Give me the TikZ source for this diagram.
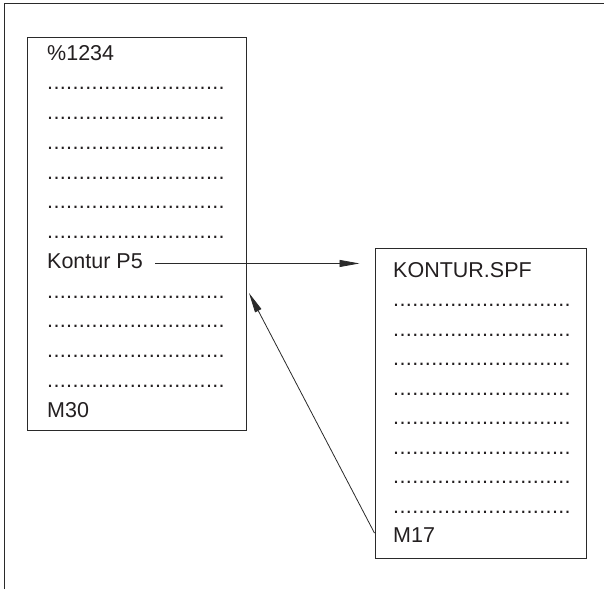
\documentclass[tikz,border=0pt]{standalone}
\usepackage{fontspec}
\setmainfont{Liberation Sans}
\usetikzlibrary{arrows.meta,positioning,calc}
\definecolor{pgink}{HTML}{231F20}
\definecolor{pgrule}{HTML}{2A2A2A}
\newcommand{\dotrow}{\foreach \d in {1,...,28}{\hbox to 6.35pt{.\hss}}}

\begin{document}
\begin{tikzpicture}[
  x=1pt,y=-1pt,
  font=\fontsize{21.5}{25}\selectfont,
  prog/.style={draw=pgrule,line width=1pt,inner sep=0pt},
  ln/.style={anchor=base west,inner sep=0pt,text=pgink},
  ar/.style={-{Triangle[length=20pt,width=7pt]},pgrule,line width=0.8pt}
]
\useasboundingbox (0,0) rectangle (604,589);
\draw[pgrule,line width=1.5pt] (4.5,589) -- (4.5,3.7) -- (604,3.7);

\node[prog,minimum width=219pt,minimum height=393pt] (main) at (136.5,233.5) {};
\node[prog,minimum width=211pt,minimum height=310pt] (sub) at (480.5,403) {};

% main program
\node[ln] (mhead) at (47,60) {\%1234};
\foreach \i in {1,...,6} \node[ln] (mdot\i) at (47,60+29.75*\i) {\dotrow};
\node[ln] (call) at (47,60+29.75*7) {Kontur P5};
\foreach \i in {8,...,11} \node[ln] (mdot\i) at (47,60+29.75*\i) {\dotrow};
\node[ln] (mend) at (47,60+29.75*12) {M30};

% subprogram
\node[ln] (shead) at (393,277) {KONTUR.SPF};
\foreach \i in {1,...,8} \node[ln] (sdot\i) at (393,277+29.5*\i) {\dotrow};
\node[ln] (send) at (393,277+29.5*9) {M17};

\coordinate (back) at (249,293);
\draw[ar] ([xshift=12pt,yshift=-2.5pt]call.east) -- ([xshift=-15pt,yshift=-2.5pt]call.east -| sub.west);
\draw[ar] ([yshift=2pt]send.west -| sub.west) -- (back);
\end{tikzpicture}
\end{document}
